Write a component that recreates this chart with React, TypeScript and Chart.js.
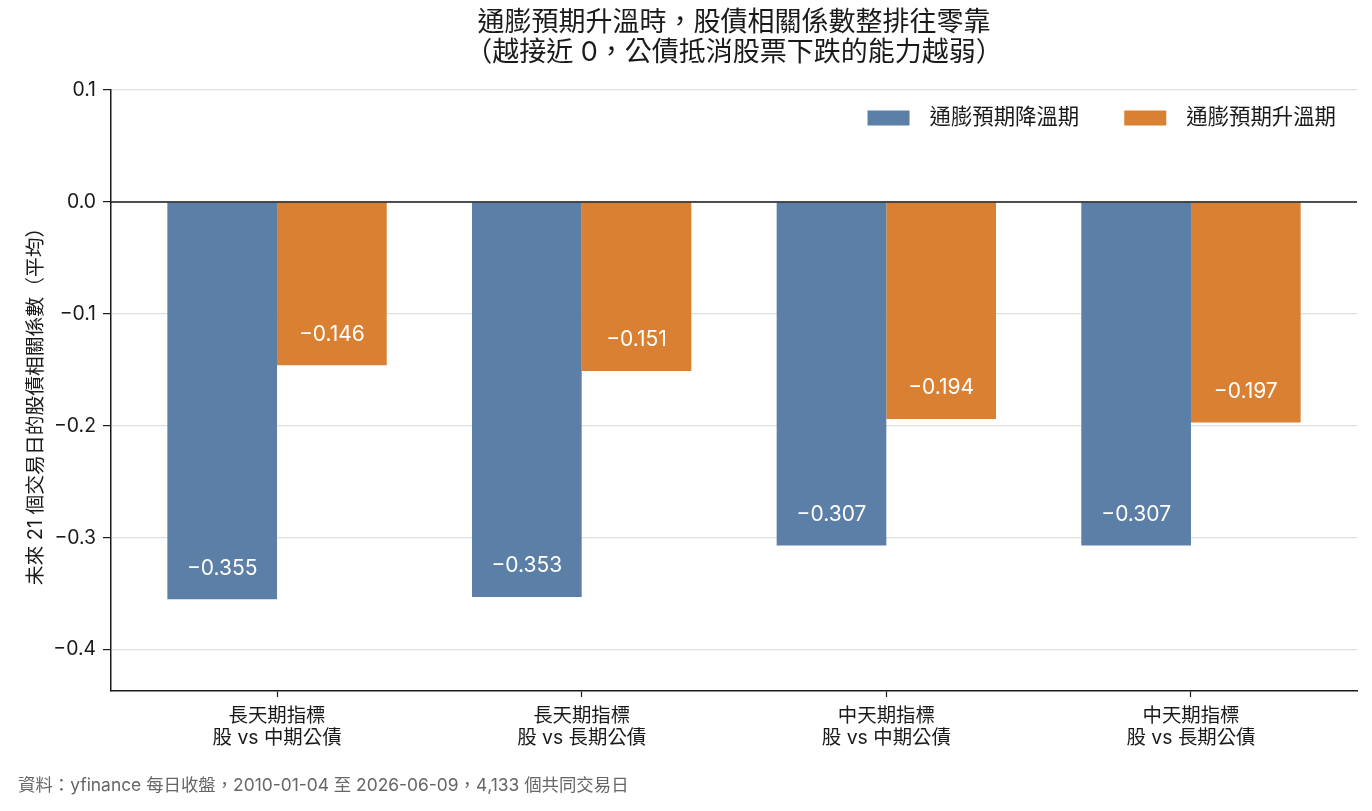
import React, { useEffect, useRef } from "react";
import { Chart, registerables } from "chart.js";

Chart.register(...registerables);

const FONT = "Inter, 'Noto Sans CJK TC', sans-serif";

const CATEGORIES: string[][] = [
  ["長天期指標", "股 vs 中期公債"],
  ["長天期指標", "股 vs 長期公債"],
  ["中天期指標", "股 vs 中期公債"],
  ["中天期指標", "股 vs 長期公債"],
];
const SERIES_NAMES = ["通膨預期降溫期", "通膨預期升溫期"];
const COOLING = [-0.355, -0.353, -0.307, -0.307];
const HEATING = [-0.146, -0.151, -0.194, -0.197];
const SERIES_COLORS = ["#5b7fa6", "#d98033"];
const TITLE_LINES = [
  "通膨預期升溫時，股債相關係數整排往零靠",
  "（越接近 0，公債抵消股票下跌的能力越弱）",
];
const Y_LABEL = "未來 21 個交易日的股債相關係數（平均）";
const FOOTER = "資料：yfinance 每日收盤，2010-01-04 至 2026-06-09，4,133 個共同交易日";
const Y_MIN = -0.437;
const Y_MAX = 0.1;

const fmt = (v: number, d: number) => {
  const s = Math.abs(v).toFixed(d);
  return v < -1e-9 ? "\u2212" + s : s;
};

const overlay = {
  id: "overlay",
  afterDatasetsDraw(chart: any) {
    const { ctx, chartArea: ca } = chart;
    const y0 = chart.scales.y.getPixelForValue(0);
    ctx.save();
    ctx.strokeStyle = "#1a1a1a";
    ctx.lineWidth = 1.5;
    ctx.beginPath();
    ctx.moveTo(ca.left, y0);
    ctx.lineTo(ca.right, y0);
    ctx.stroke();

    // data labels
    ctx.fillStyle = "#ffffff";
    ctx.font = `21px ${FONT}`;
    ctx.textAlign = "center";
    ctx.textBaseline = "middle";
    chart.data.datasets.forEach((ds: any, i: number) => {
      const meta = chart.getDatasetMeta(i);
      meta.data.forEach((el: any, j: number) => {
        const v = ds.data[j].y;
        ctx.fillText(fmt(v, 3), el.x, el.y - 31);
      });
    });
    ctx.restore();
  },
  afterDraw(chart: any) {
    const { ctx, chartArea: ca } = chart;
    ctx.save();
    // title
    ctx.fillStyle = "#1a1a1a";
    ctx.font = `27px ${FONT}`;
    ctx.textAlign = "center";
    ctx.textBaseline = "middle";
    const cx = (ca.left + ca.right) / 2;
    TITLE_LINES.forEach((t, i) => ctx.fillText(t, cx, 23 + i * 30));

    // y axis title
    ctx.save();
    ctx.translate(36, (ca.top + ca.bottom) / 2 + 11);
    ctx.rotate(-Math.PI / 2);
    ctx.font = `19.8px ${FONT}`;
    ctx.fillText(Y_LABEL, 0, 0);
    ctx.restore();

    // legend
    ctx.font = `21.4px ${FONT}`;
    ctx.textAlign = "left";
    const sw = 42, sh = 15, gapT = 20, gapI = 45;
    const widths = chart.data.datasets.map((d: any) => ctx.measureText(d.label).width);
    let total = 0;
    widths.forEach((w: number, i: number) => {
      total += sw + gapT + w + (i < widths.length - 1 ? gapI : 0);
    });
    let x = ca.right - 21 - total;
    const ly = 118;
    chart.data.datasets.forEach((d: any, i: number) => {
      ctx.fillStyle = d.backgroundColor;
      ctx.fillRect(x, ly - sh / 2, sw, sh);
      x += sw + gapT;
      ctx.fillStyle = "#1a1a1a";
      ctx.fillText(d.label, x, ly);
      x += widths[i] + gapI;
    });

    // footer
    ctx.fillStyle = "#666666";
    ctx.font = `17.4px ${FONT}`;
    ctx.fillText(FOOTER, 18, 786);
    ctx.restore();
  },
};

export default function App() {
  const ref = useRef<HTMLCanvasElement | null>(null);
  useEffect(() => {
    document.body.style.margin = "0";
    const canvas = ref.current;
    if (!canvas) return;
    const toPts = (arr: number[]) => arr.map((v, i) => ({ x: i, y: v }));
    const chart = new Chart(canvas, {
      type: "bar",
      data: {
        datasets: [
          {
            label: SERIES_NAMES[0],
            data: toPts(COOLING),
            backgroundColor: SERIES_COLORS[0],
            borderWidth: 0,
          },
          {
            label: SERIES_NAMES[1],
            data: toPts(HEATING),
            backgroundColor: SERIES_COLORS[1],
            borderWidth: 0,
          },
        ],
      },
      options: {
        animation: false,
        responsive: true,
        maintainAspectRatio: false,
        categoryPercentage: 0.72,
        barPercentage: 1,
        layout: { padding: { left: 0, right: 15, top: 90, bottom: 0 } },
        plugins: {
          legend: { display: false },
          title: { display: false },
          tooltip: { enabled: false },
        },
        scales: {
          x: {
            type: "linear",
            min: -0.545,
            max: 3.545,
            offset: false,
            grid: {
              display: true,
              offset: false,
              drawOnChartArea: false,
              drawTicks: true,
              tickLength: 6,
              tickColor: "#1a1a1a",
              tickWidth: 1.2,
            },
            border: { display: true, color: "#1a1a1a", width: 1.5 },
            ticks: {
              stepSize: 1,
              includeBounds: false,
              autoSkip: false,
              maxRotation: 0,
              padding: 8,
              color: "#1a1a1a",
              font: { family: FONT, size: 19.4, lineHeight: 1.15 },
              callback: (v: any) => {
                const i = Math.round(Number(v));
                return CATEGORIES[i] ?? "";
              },
            },
            afterFit: (s: any) => {
              s.height = 120;
            },
          },
          y: {
            min: Y_MIN,
            max: Y_MAX,
            grid: {
              color: "#dcdfe4",
              lineWidth: 1.2,
              tickLength: 8,
              tickColor: "#1a1a1a",
              tickWidth: 1.2,
            },
            border: { display: true, color: "#1a1a1a", width: 1.5 },
            ticks: {
              stepSize: 0.1,
              includeBounds: false,
              padding: 7,
              color: "#1a1a1a",
              font: { family: FONT, size: 19.4 },
              callback: (v: any) => fmt(Number(v), 1),
            },
            afterFit: (s: any) => {
              s.width = 111;
            },
          },
        },
      },
      plugins: [overlay],
    } as any);
    return () => chart.destroy();
  }, []);
  return (
    <div style={{ position: "fixed", left: 0, top: 0, width: "1372px", height: "811px" }}>
      <canvas ref={ref} />
    </div>
  );
}
